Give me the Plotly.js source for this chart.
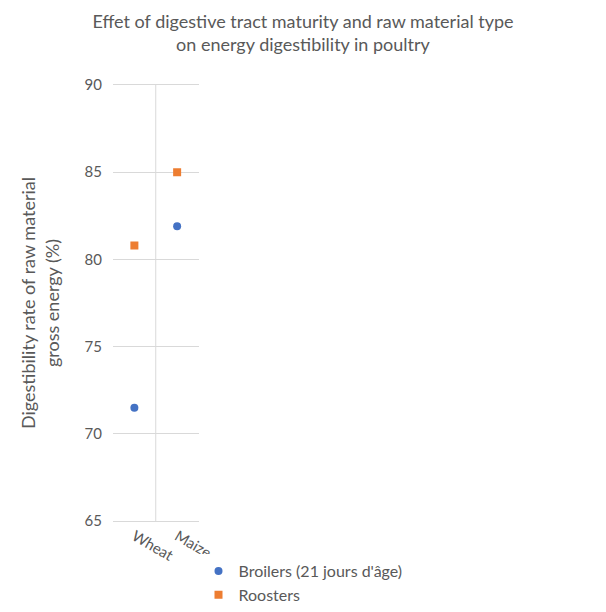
<!DOCTYPE html>
<html>
<head>
<script src="https://cdn.plot.ly/plotly-3.0.1.min.js"></script>
<style>body{margin:0}</style>
</head>
<body>
<div id="chart" style="width:606px;height:612px"></div>
<script>
const categories = ["Wheat", "Maize"];
const broilers = [71.5, 81.9];
const roosters = [80.8, 85.0];

const font = "Lato, 'Noto Sans', sans-serif";

var data = [
  {
    x: categories, y: broilers, name: "Broilers (21 jours d'âge)",
    type: "scatter", mode: "markers",
    marker: {symbol: "circle", size: 8, color: "#4472C4"}
  },
  {
    x: categories, y: roosters, name: "Roosters",
    type: "scatter", mode: "markers",
    marker: {symbol: "square", size: 8, color: "#ED7D31"}
  }
];

var layout = {
  width: 606, height: 612,
  margin: {l: 113, r: 24, t: 85, b: 91},
  font: {family: font, color: "#595959", size: 14},
  title: {
    text: "Effet of digestive tract maturity and raw material type<br>on energy digestibility in poultry",
    font: {size: 18, color: "#595959"}, x: 0.5, y: 0.955, xanchor: "center"
  },
  xaxis: {
    type: "category", range: [-0.5, 1.5], showgrid: false,
    showline: true, mirror: true, linecolor: "#d9d9d9", ticks: "",
    tickfont: {size: 15}
  },
  yaxis: {
    range: [65, 90], dtick: 5, gridcolor: "#d9d9d9", zeroline: false,
    tickfont: {size: 15}, ticklabelstandoff: 10,
    title: {text: "Digestibility rate of raw material<br>gross energy (%)", font: {size: 18, color: "#595959"}, standoff: 20}
  },
  shapes: [{type: "line", xref: "x", yref: "paper", x0: 0.5, x1: 0.5, y0: 0, y1: 1,
            line: {color: "#d9d9d9", width: 1}}],
  legend: {orientation: "h", xref: "container", x: 0.5, xanchor: "center", y: -0.09, yanchor: "top", font: {size: 16}},
  plot_bgcolor: "white", paper_bgcolor: "white"
};

Plotly.newPlot("chart", data, layout, {displayModeBar: false});
</script>
</body>
</html>
